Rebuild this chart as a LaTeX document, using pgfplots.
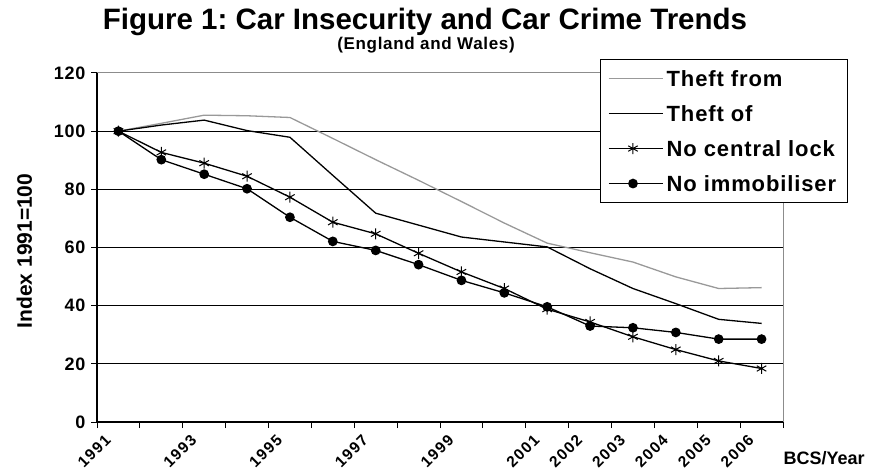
\documentclass[border=0pt]{standalone}
\usepackage{fontspec}
\setmainfont{Liberation Sans}
\newfontfamily\spaced[LetterSpace=4]{Liberation Sans}
\newfontfamily\wide[LetterSpace=10]{Liberation Sans}
\usepackage{pgfplots}
\pgfplotsset{compat=1.18}
\definecolor{theftfrom}{HTML}{999999}
\definecolor{plotframe}{HTML}{8C8C8C}

\begin{document}
\frenchspacing
\begin{tikzpicture}
\useasboundingbox (0pt,0pt) rectangle (870pt,474pt);
\begin{axis}[
    at={(97pt,52pt)}, anchor=south west,
    scale only axis, width=686pt, height=349pt,
    xmin=0, xmax=16, ymin=0, ymax=120,
    clip=false,
    axis lines=left,
    axis line style={-, line width=1.1pt},
    tick align=outside,
    xtick={0,1,...,16}, xticklabels={},
    major tick length=6pt,
    tick style={black, line width=1pt},
    extra x ticks={0.5,1.5,...,15.5},
    extra x tick labels={1991,,1993,,1995,,1997,,1999,,2001,2002,2003,2004,2005,2006},
    extra x tick style={major tick length=0pt, grid=none,
        xticklabel style={font=\wide\bfseries\fontsize{15.5}{15.5}\selectfont,
        xshift=-8pt, yshift=-13pt, rotate=45, anchor=east}},
    ytick={0,20,...,100},
    extra y ticks={120},
    extra y tick style={grid=none},
    yticklabel style={font=\spaced\bfseries\fontsize{18}{18}\selectfont, xshift=-2pt},
    /pgf/number format/assume math mode=true,
    ymajorgrids,
    grid style={black, line width=1pt},
    every axis title/.style={at={(rel axis cs:0.4781,1.126)}, anchor=base,
        font=\bfseries\fontsize{29.5}{29.5}\selectfont},
    title={Figure 1: Car Insecurity and Car Crime Trends},
    every axis y label/.style={at={(rel axis cs:-0.106,0.49)}, rotate=90,
        anchor=center, font=\bfseries\fontsize{21}{21}\selectfont},
    ylabel={Index 1991=100},
    every axis x label/.style={at={(rel axis cs:0.9956,-0.123)}, anchor=base west,
        font=\bfseries\fontsize{18}{18}\selectfont},
    xlabel={BCS/Year},
    legend image code/.code={\path (0pt,0pt) -- (54pt,0pt);
        \draw[mark repeat=2,mark phase=2,#1]
        plot coordinates {(0pt,0pt) (24pt,0pt) (48pt,0pt)};},
    legend style={at={(rel axis cs:0.733,1.04)}, anchor=north west,
        draw=black, line width=1pt, fill=white, inner sep=8pt, row sep=13pt,
        font=\spaced\bfseries\fontsize{22}{22}\selectfont,
        nodes={text height=16pt, text depth=0pt, inner ysep=3pt, inner xsep=3pt}},
    legend cell align=left,
]
\draw[plotframe, line width=1pt] (rel axis cs:0,1) -- (rel axis cs:1,1) -- (rel axis cs:1,0);

\addplot[theftfrom, line width=1.3pt, no markers] coordinates {
(0.5,100) (1.5,102.7) (2.5,105.5) (3.5,105.3) (4.5,104.7) (5.5,97.5) (6.5,90.2) (7.5,83.1)
(8.5,75.8) (9.5,68.4) (10.5,61.5) (11.5,58.2) (12.5,55.0) (13.5,49.9) (14.5,45.9) (15.5,46.2)};
\addlegendentry{Theft from}

\addplot[black, line width=1.3pt, no markers] coordinates {
(0.5,100) (1.5,102.1) (2.5,103.8) (3.5,100.2) (4.5,97.9) (5.5,84.8) (6.5,71.8) (7.5,67.7)
(8.5,63.6) (9.5,61.9) (10.5,60.2) (11.5,52.7) (12.5,45.9) (13.5,40.7) (14.5,35.3) (15.5,33.9)};
\addlegendentry{Theft of}

\addplot[black, line width=1.3pt, mark=asterisk, mark size=5.5pt, mark options={line width=1pt}] coordinates {
(0.5,100) (1.5,92.7) (2.5,89.0) (3.5,84.5) (4.5,77.3) (5.5,68.7) (6.5,64.7) (7.5,58.0)
(8.5,51.6) (9.5,45.9) (10.5,38.8) (11.5,34.4) (12.5,29.3) (13.5,24.9) (14.5,21.0) (15.5,18.4)};
\addlegendentry{No central lock}

\addplot[black, line width=1.3pt, mark=*, mark size=4.2pt] coordinates {
(0.5,100) (1.5,90.2) (2.5,85.2) (3.5,80.2) (4.5,70.4) (5.5,62.1) (6.5,59.0) (7.5,54.1)
(8.5,48.7) (9.5,44.4) (10.5,39.6) (11.5,33.0) (12.5,32.4) (13.5,30.8) (14.5,28.5) (15.5,28.5)};
\addlegendentry{No immobiliser}

\node[anchor=base, font=\spaced\bfseries\fontsize{17}{17}\selectfont] at (rel axis cs:0.4796,1.066) {(England and Wales)};
\end{axis}
\end{tikzpicture}
\end{document}
